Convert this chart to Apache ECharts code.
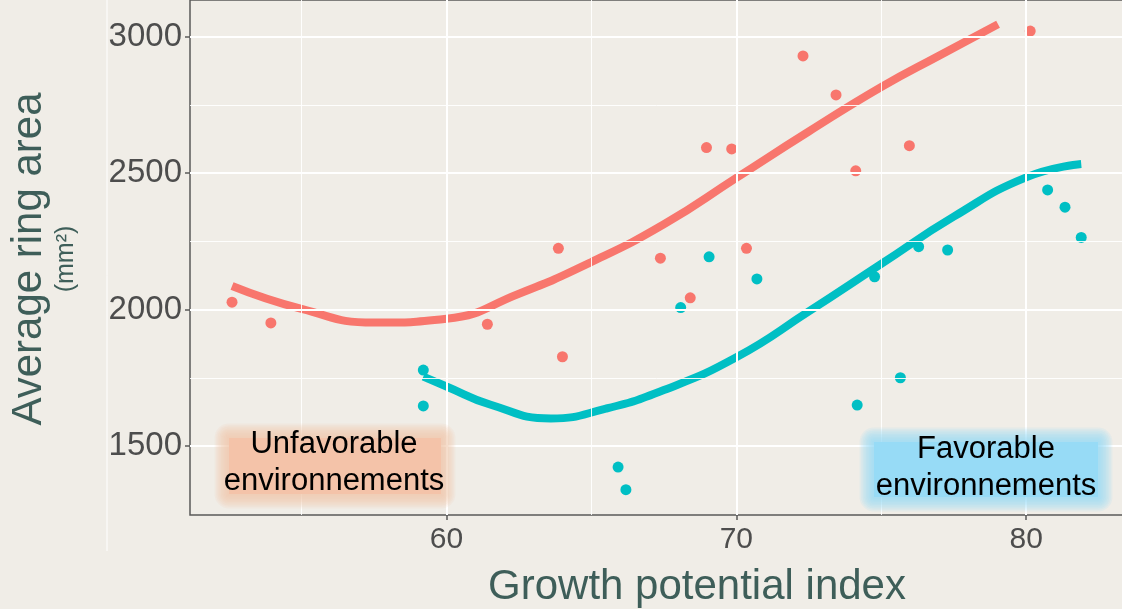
<!DOCTYPE html>
<html><head><meta charset="utf-8">
<script src="https://cdn.jsdelivr.net/npm/echarts@6/dist/echarts.min.js"></script>
<style>html,body{margin:0;padding:0;background:#F0EDE7;}#c{width:1122px;height:609px;}</style>
</head><body><div id="c"></div>
<script>
// tick labels / gridlines
const xTicks = [60, 70, 80];
const yTicks = [1500, 2000, 2500, 3000];
const xMinorGrid = [55, 65, 75];
const yMinorGrid = [1750, 2250, 2750];

// observed points
const redX  = [52.6, 53.94, 61.41, 64.0, 63.86, 67.38, 68.41, 68.97, 69.84, 70.35, 72.30, 73.44, 74.12, 75.97, 80.14];
const redY  = [2027, 1951, 1946, 1827, 2224, 2188, 2043, 2593, 2588, 2224, 2929, 2786, 2508, 2600, 3020];
const tealX = [59.2, 59.2, 65.92, 66.19, 68.08, 69.06, 70.71, 74.77, 76.29, 77.29, 74.17, 75.66, 80.74, 81.34, 81.90];
const tealY = [1778, 1647, 1423, 1340, 2007, 2193, 2112, 2120, 2230, 2218, 1650, 1750, 2438, 2375, 2264];

// smoothed trend curves
const redCurveX  = [52.6, 55, 57.5, 60, 62.5, 65, 67.5, 70, 72.5, 75, 77, 79.03];
const redCurveY  = [2086, 2002, 1952, 1966, 2058, 2174, 2312, 2482, 2652, 2815, 2930, 3045];
const tealCurveX = [59.2, 60, 61.5, 63.6, 65.5, 67.5, 70, 72.5, 75, 77.5, 80, 81.9];
const tealCurveY = [1754, 1718, 1652, 1601, 1637, 1705, 1825, 1993, 2167, 2340, 2484, 2533];

const RED = '#F8766D', TEAL = '#00BFC4';
const zip = (a, b) => a.map((v, i) => [v, b[i]]);

const chart = echarts.init(document.getElementById('c'), null, {renderer: 'canvas'});
const labelFont = '"Liberation Sans", Arial, sans-serif';

// feathered (blurred-edge) highlight box for annotations
function featherBox(x, y, w, h, color, steps, spread) {
  const out = [];
  for (let i = steps; i >= 1; i--) {
    const e = i * spread;
    out.push({type: 'rect', z: 50, silent: true,
      shape: {x: x - e, y: y - e, width: w + 2 * e, height: h + 2 * e, r: e},
      style: {fill: color, opacity: 0.14}});
  }
  out.push({type: 'rect', z: 50, silent: true, shape: {x, y, width: w, height: h}, style: {fill: color}});
  return out;
}

chart.setOption({
  backgroundColor: '#F0EDE7',
  animation: false,
  grid: {
    left: 190, top: 0, right: -3, bottom: 94,
    show: true, backgroundColor: '#F0EDE7', borderColor: '#5A5A5A', borderWidth: 1.5,
    containLabel: false, outerBoundsMode: 'none'
  },
  xAxis: {
    type: 'value', min: 51.15, max: 83.41,
    axisLine: {show: false},
    splitLine: {show: false},
    axisTick: {show: true, length: 5, lineStyle: {color: '#5A5A5A', width: 1.5}, customValues: xTicks},
    axisLabel: {customValues: xTicks, fontSize: 30, color: '#4D4D4D', fontFamily: labelFont, margin: 10,
                formatter: v => String(v)}
  },
  yAxis: {
    type: 'value', min: 1247.3, max: 3133.7,
    axisLine: {show: false},
    splitLine: {show: false},
    axisTick: {show: true, length: 5, lineStyle: {color: '#5A5A5A', width: 1.5}, customValues: yTicks},
    axisLabel: {customValues: yTicks, fontSize: 33, color: '#4D4D4D', fontFamily: labelFont, margin: 8,
                formatter: v => String(v)}
  },
  series: [
    {
      type: 'line', data: [], z: 1, silent: true,
      markLine: {
        silent: true, symbol: 'none', label: {show: false}, animation: false,
        lineStyle: {color: '#FFFFFF', width: 1, type: 'solid', opacity: 0.9},
        data: xMinorGrid.map(v => ({xAxis: v})).concat(yMinorGrid.map(v => ({yAxis: v})))
      }
    },
    {
      type: 'line', data: [], z: 1, silent: true,
      markLine: {
        silent: true, symbol: 'none', label: {show: false}, animation: false,
        lineStyle: {color: '#FFFFFF', width: 2, type: 'solid'},
        data: xTicks.map(v => ({xAxis: v})).concat(yTicks.map(v => ({yAxis: v})))
      }
    },
    {type: 'scatter', data: zip(redX, redY), symbolSize: 11, itemStyle: {color: RED, opacity: 1}, z: 3},
    {type: 'scatter', data: zip(tealX, tealY), symbolSize: 11, itemStyle: {color: TEAL, opacity: 1}, z: 3},
    {type: 'line', data: zip(redCurveX, redCurveY), smooth: true, showSymbol: false, z: 4,
     lineStyle: {color: RED, width: 8, cap: 'butt'}},
    {type: 'line', data: zip(tealCurveX, tealCurveY), smooth: true, showSymbol: false, z: 4,
     lineStyle: {color: TEAL, width: 8, cap: 'butt'}}
  ],
  graphic: [
    {type: 'line', shape: {x1: 107, y1: 0, x2: 107, y2: 551}, style: {stroke: '#FFFFFF', lineWidth: 1}, z: 0}
  ].concat(
    featherBox(229, 438, 212, 56, '#F4C3A9', 9, 1.6),
    featherBox(874, 442, 224, 55, '#97DBF6', 9, 1.6),
    [
    {type: 'text', x: 334, y: 444.5, z: 51,
     style: {text: 'Unfavorable', fontSize: 31, fontFamily: labelFont, fill: '#000', align: 'center', verticalAlign: 'middle'}},
    {type: 'text', x: 334, y: 481, z: 51,
     style: {text: 'environnements', fontSize: 31, fontFamily: labelFont, fill: '#000', align: 'center', verticalAlign: 'middle'}},
    {type: 'text', x: 986, y: 449.5, z: 51,
     style: {text: 'Favorable', fontSize: 31, fontFamily: labelFont, fill: '#000', align: 'center', verticalAlign: 'middle'}},
    {type: 'text', x: 986, y: 486.5, z: 51,
     style: {text: 'environnements', fontSize: 31, fontFamily: labelFont, fill: '#000', align: 'center', verticalAlign: 'middle'}},
    {type: 'text', x: 697, y: 587, z: 51,
     style: {text: 'Growth potential index', fontSize: 42, fontFamily: labelFont, fill: '#3E5E59', align: 'center', verticalAlign: 'middle'}},
    {type: 'text', x: 29, y: 259, rotation: Math.PI / 2, z: 51,
     style: {text: 'Average ring area', fontSize: 42, fontFamily: labelFont, fill: '#3E5E59', align: 'center', verticalAlign: 'middle'}},
    {type: 'text', x: 66, y: 259, rotation: Math.PI / 2, z: 51,
     style: {text: '(mm²)', fontSize: 25, fontFamily: labelFont, fill: '#3E5E59', align: 'center', verticalAlign: 'middle'}}
  ])
});
</script>
</body></html>
